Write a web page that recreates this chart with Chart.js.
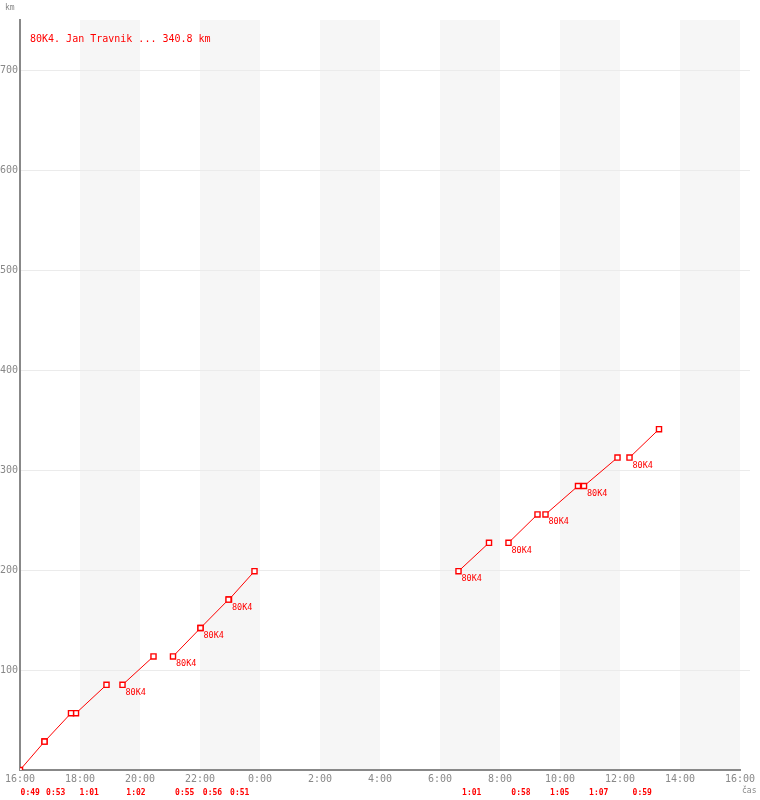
<!DOCTYPE html>
<html><head><meta charset="utf-8">
<script src="https://cdn.jsdelivr.net/npm/chart.js@4/dist/chart.umd.min.js"></script>
<style>html,body{margin:0;padding:0;background:#fff}canvas{display:block}</style>
</head><body>
<canvas id="c" width="760" height="800"></canvas>
<script>
const titleText = '80K4. Jan Travnik ... 340.8 km';
const riderCode = '80K4';
const yAxisTitle = 'km';
const xAxisTitle = 'čas';
const legStartTimes = ['16:00','16:49','17:52','19:25','21:06','22:01','22:58','6:37','8:17','9:31','10:48','12:19'];
const legEndTimes   = ['16:49','17:42','18:53','20:27','22:01','22:57','23:49','7:38','9:15','10:36','11:55','13:18'];
const legStartKm = [0, 28.4, 56.8, 85.2, 113.6, 142.0, 170.4, 198.8, 227.2, 255.6, 284.0, 312.4];
const legEndKm   = [28.4, 56.8, 85.2, 113.6, 142.0, 170.4, 198.8, 227.2, 255.6, 284.0, 312.4, 340.8];
const legDurations = ['0:49','0:53','1:01','1:02','0:55','0:56','0:51','1:01','0:58','1:05','1:07','0:59'];
const legTagged = [false,false,false,true,true,true,true,true,true,true,true,true];
const xTickTimes = ['16:00','18:00','20:00','22:00','0:00','2:00','4:00','6:00','8:00','10:00','12:00','14:00','16:00'];
const yTickValues = [100,200,300,400,500,600,700];
const shadedBands = [['18:00','20:00'],['22:00','0:00'],['2:00','4:00'],['6:00','8:00'],['10:00','12:00'],['14:00','16:00']];

const RED = '#ff0000', GRAY = '#888888';
const MONO = '"DejaVu Sans Mono", monospace';
const toMin = s => { const [h,m] = s.split(':').map(Number); let v = h*60+m-960; if (v<0) v+=1440; return v; };
const tickMin = xTickTimes.map((t,i)=> i===xTickTimes.length-1 ? 1440 : toMin(t));

const datasets = [];
legStartTimes.forEach((t,i)=>{
  datasets.push({
    data:[{x:toMin(t),y:legStartKm[i]},{x:toMin(legEndTimes[i]),y:legEndKm[i]}],
    borderColor:RED, borderWidth:1, pointStyle:'rect', pointRadius:3.6, pointBorderWidth:1.4,
    pointBorderColor:RED, pointBackgroundColor:'#fff', fill:false, tension:0
  });
});
const dots = [];
legStartTimes.forEach((t,i)=>{
  dots.push({x:toMin(t),y:legStartKm[i]}); dots.push({x:toMin(legEndTimes[i]),y:legEndKm[i]});
});
datasets.push({data:dots, showLine:false, pointStyle:'rect', pointRadius:1.1, pointBorderWidth:0, pointBackgroundColor:RED});

const deco = {
  id:'deco',
  beforeDraw(chart){
    const {ctx, chartArea:a, scales:{x,y}} = chart;
    ctx.save();
    ctx.fillStyle = '#f6f6f6';
    shadedBands.forEach(([s,e])=>{
      const sm = toMin(s); let em = toMin(e); if (em<=sm) em+=1440;
      const x0 = x.getPixelForValue(sm), x1 = x.getPixelForValue(em);
      ctx.fillRect(x0, a.top, x1-x0, a.bottom-a.top);
    });
    ctx.strokeStyle = '#ebebeb'; ctx.lineWidth = 1;
    yTickValues.forEach(v=>{
      const py = Math.round(y.getPixelForValue(v))+0.5;
      ctx.beginPath(); ctx.moveTo(a.left, py); ctx.lineTo(a.right+10, py); ctx.stroke();
    });
    ctx.restore();
  },
  afterDatasetsDraw(chart){
    const {ctx, scales:{x,y}} = chart;
    ctx.save();
    ctx.textBaseline = 'alphabetic';
    ctx.fillStyle = RED; ctx.font = '10px '+MONO; ctx.textAlign='left';
    ctx.fillText(titleText, 30, 42);
    ctx.fillStyle = GRAY; ctx.font = '8px '+MONO;
    ctx.fillText(yAxisTitle, 5, 10);
    ctx.fillText(xAxisTitle, 742, 793);
    ctx.fillStyle = RED;
    legStartTimes.forEach((t,i)=>{
      if (legTagged[i]) {
        ctx.font = '8.5px '+MONO; ctx.textAlign='left';
        ctx.fillText(riderCode, x.getPixelForValue(toMin(t))+3, y.getPixelForValue(legStartKm[i])+10);
      }
      const mid = (x.getPixelForValue(toMin(t)) + x.getPixelForValue(toMin(legEndTimes[i])))/2;
      ctx.font = 'bold 8px '+MONO; ctx.textAlign='center';
      ctx.fillText(legDurations[i], mid-2, 795);
    });
    ctx.restore();
  }
};

new Chart(document.getElementById('c'), {
  type:'line',
  data:{datasets},
  options:{
    responsive:false, animation:false, events:[],
    layout:{padding:{top:20,right:20,left:0,bottom:0}},
    plugins:{legend:{display:false}, tooltip:{enabled:false}},
    scales:{
      x:{type:'linear', min:0, max:1440,
        afterBuildTicks:s=>{ s.ticks = tickMin.map(v=>({value:v})); },
        afterFit:s=>{ s.height=30; s.paddingLeft=0; s.paddingRight=0; },
        ticks:{autoSkip:false, maxRotation:0, padding:3, color:GRAY, font:{family:MONO,size:10},
          callback:(v)=>{ const i = tickMin.indexOf(v); return i>=0 ? xTickTimes[i] : ''; }},
        grid:{display:false, drawTicks:false},
        border:{display:true, color:GRAY, width:2}
      },
      y:{type:'linear', min:0, max:750,
        afterBuildTicks:s=>{ s.ticks = yTickValues.map(v=>({value:v})); },
        afterFit:s=>{ s.width=20; s.paddingTop=0; s.paddingBottom=0; },
        ticks:{padding:2, color:GRAY, font:{family:MONO,size:10}},
        grid:{display:false, drawTicks:false},
        border:{display:true, color:GRAY, width:2}
      }
    }
  },
  plugins:[deco]
});
</script>
</body></html>
